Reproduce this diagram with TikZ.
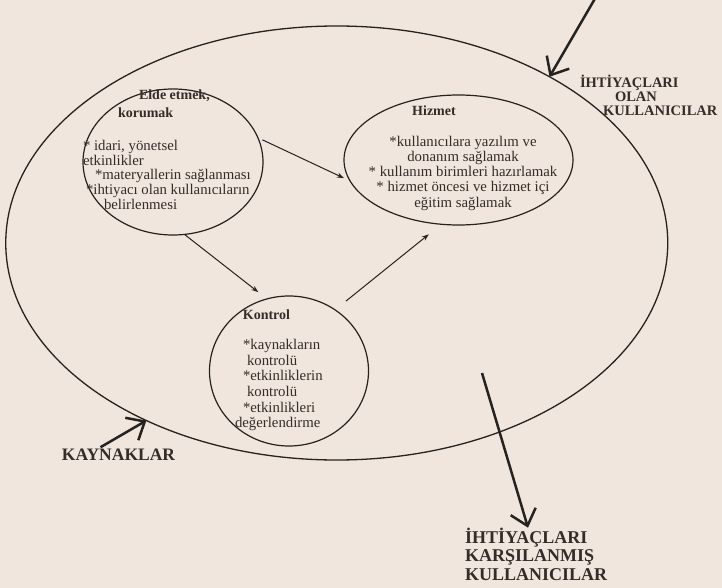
\documentclass[tikz,border=0pt]{standalone}
\usepackage{fontspec}
\setmainfont{Liberation Serif}
\usepackage{xcolor}
\usepackage{tikz}
\usetikzlibrary{shapes.geometric, arrows.meta}
\definecolor{Paper}{HTML}{F0E6DD}
\definecolor{Ink}{HTML}{262220}
\definecolor{Print}{HTML}{332C28}

\begin{document}
\begin{tikzpicture}[x=1pt, y=-1pt, >={Stealth[length=7pt,width=5pt]}, every node/.style={inner sep=0pt, outer sep=0pt}]
    \tikzstyle{field} = [ellipse, draw=Ink, line width=1.3pt, minimum width=662pt, minimum height=434pt]
    \tikzstyle{bubble} = [ellipse, draw=Ink, line width=1.2pt]
    \tikzstyle{title} = [font=\bfseries\fontsize{14}{17.5}\selectfont, text=Print, align=left]
    \tikzstyle{body} = [font=\fontsize{14.8}{14.6}\selectfont, text=Print]
    \tikzstyle{tag} = [font=\bfseries, text=Print, align=left]
    \tikzstyle{flow} = [draw=Ink, ->, line width=1pt]
    \tikzstyle{push} = [draw=Ink, -{Straight Barb[length=15pt,width=26pt]}, line width=2.5pt]

    \useasboundingbox (0,0) rectangle (722,588);
    \fill [Paper] (0,0) rectangle (722,588);

    \node [field] (outer) at (336.75,243) {};
    \node [bubble, minimum width=180pt, minimum height=146pt] (acquire) at (173,162) {};
    \node [bubble, minimum width=229pt, minimum height=130pt] (service) at (458.5,160) {};
    \node [bubble, minimum width=159pt, minimum height=150pt] (control) at (289,371) {};

    \node [title, anchor=north west] (acquiretitle) at (118,90) {\hspace*{21pt}Elde etmek,\\korumak};
    \node [body, align=left, anchor=north west] (acquiretext) at (83,140.5) {* idari, yönetsel\\etkinlikler\\\hspace*{12pt}*materyallerin sağlanması\\\hspace*{3pt}*ihtiyacı olan kullanıcıların\\\hspace*{21pt}belirlenmesi};

    \node [title, anchor=base] (servicetitle) at (434,116) {Hizmet};
    \node [body, align=center, anchor=north, font=\fontsize{14.8}{15.2}\selectfont] (servicetext) at (463,136) {*kullanıcılara yazılım ve\\donanım sağlamak\\* kullanım birimleri hazırlamak\\* hizmet öncesi ve hizmet içi\\eğitim sağlamak};

    \node [title, anchor=base] (controltitle) at (266.5,319) {Kontrol};
    \node [body, align=left, anchor=north west, font=\fontsize{14.8}{15.6}\selectfont] (controltext) at (235,339.4) {\hspace*{8pt}*kaynakların\\\hspace*{12pt}kontrolü\\\hspace*{8pt}*etkinliklerin\\\hspace*{12pt}kontrolü\\\hspace*{8pt}*etkinlikleri\\değerlendirme};

    \node [tag, font=\bfseries\fontsize{17.5}{18}\selectfont] (resources) at (118.5,455) {KAYNAKLAR};
    \node [tag, anchor=north west, font=\bfseries\fontsize{14.5}{14}\selectfont] (needy) at (580,75) {İHTİYAÇLARI\\\hspace*{35pt}OLAN\\\hspace*{23pt}KULLANICILAR};
    \node [tag, anchor=north west, font=\bfseries\fontsize{18}{18.5}\selectfont] (served) at (465,527.7) {İHTİYAÇLARI\\KARŞILANMIŞ\\KULLANICILAR};

    \coordinate (topin) at (600,-10);
    \coordinate (leave) at (482,373);

    \path [flow, shorten <=5pt, shorten >=7pt] (acquire.16) -- (service.191);
    \path [flow, shorten >=11pt] (acquire.-81) -- (control.107);
    \path [flow, shorten <=14pt, shorten >=16pt] (control.53) -- (service.255);

    \path [push] (topin) -- (outer.38);
    \path [push] ([xshift=-18pt,yshift=2pt]resources.north) -- (outer.223);
    \path [push] (leave) -- ([xshift=63pt]served.north west);
\end{tikzpicture}
\end{document}
